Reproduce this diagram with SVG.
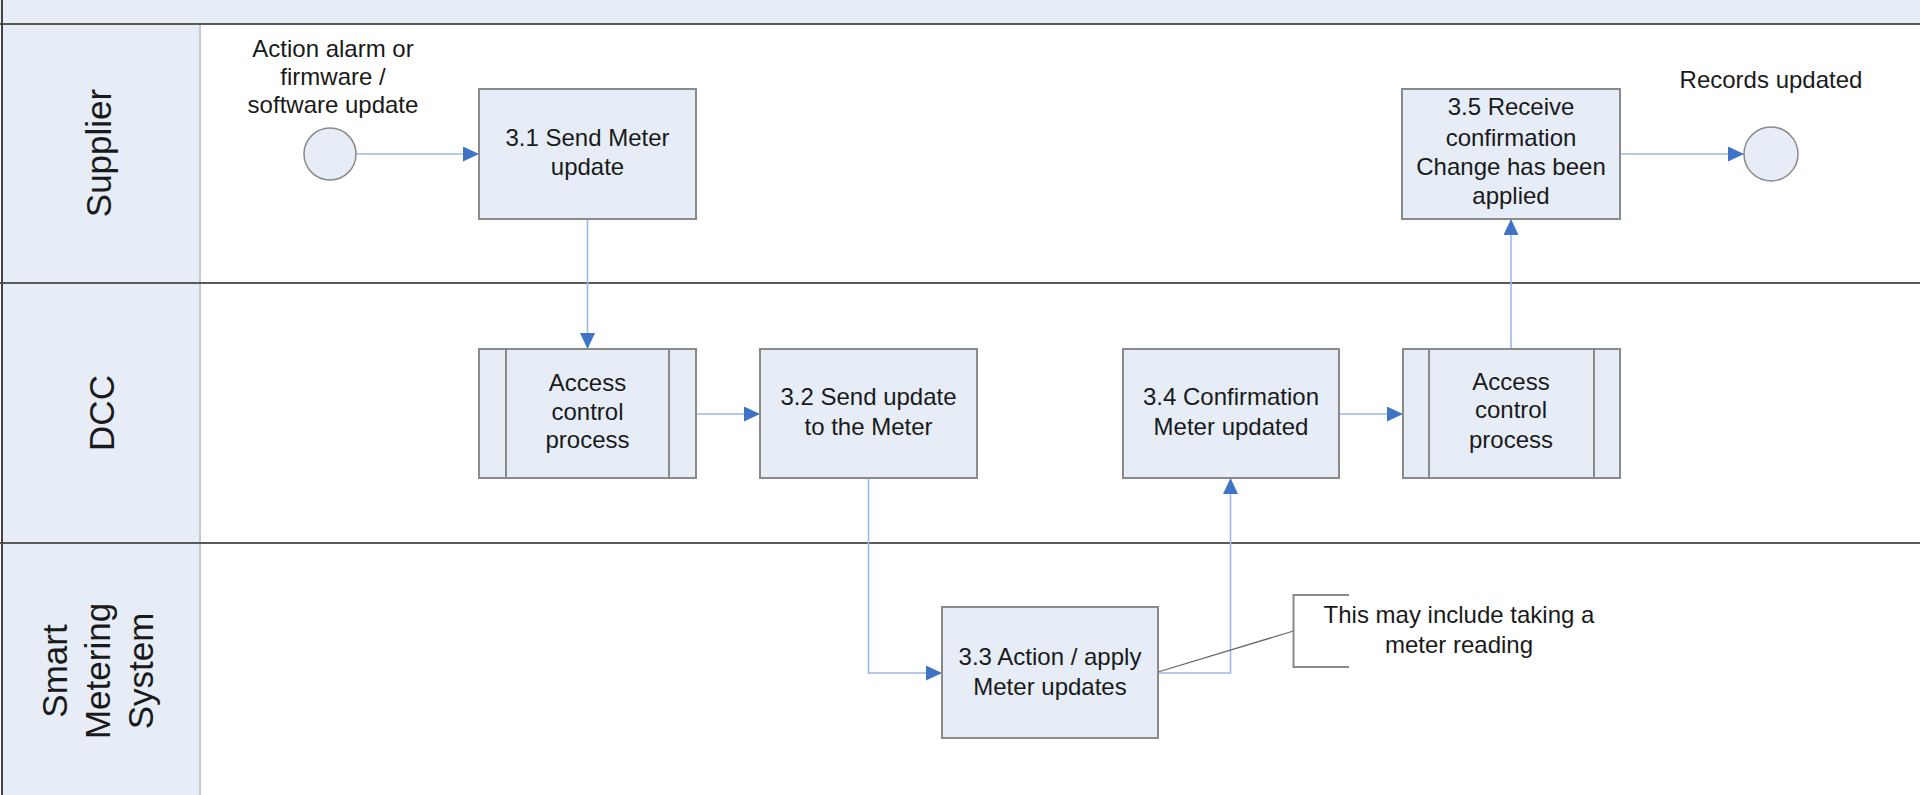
<svg xmlns="http://www.w3.org/2000/svg" width="1920" height="795" viewBox="0 0 1920 795">
<defs>
<style>
.t{font-family:"Liberation Sans",Arial,sans-serif;font-size:24px;fill:#1a1a1a;text-anchor:middle}
.lane{font-family:"Liberation Sans",Arial,sans-serif;font-size:35px;fill:#1a1a1a;text-anchor:middle}
.box{fill:#E6EDF7;stroke:#8a8a8a;stroke-width:2}
.inner{stroke:#8a8a8a;stroke-width:2}
.ev{fill:#E6EDF7;stroke:#8a8a8a;stroke-width:1.5}
.con{fill:none;stroke:#9DB9E6;stroke-width:1.6;marker-end:url(#ah)}
.div{stroke:#5a5a5a;stroke-width:2}
</style>
<marker id="ah" markerUnits="userSpaceOnUse" markerWidth="16" markerHeight="15" refX="16" refY="7.5" orient="auto">
<path d="M0,0 L16,7.5 L0,15 z" fill="#3F73C6"/>
</marker>
</defs>
<rect width="1920" height="795" fill="#ffffff"/>
<g id="pool">
<rect x="0" y="0" width="1920" height="24" fill="#E6EDF7"/>
<rect x="2" y="24" width="198" height="771" fill="#E6EDF7"/>
<line x1="200" y1="24" x2="200" y2="795" stroke="#C3CAD4" stroke-width="2"/>
<line class="div" x1="0" y1="24" x2="1920" y2="24"/>
<line class="div" x1="0" y1="283" x2="1920" y2="283"/>
<line class="div" x1="0" y1="543" x2="1920" y2="543"/>
<line x1="2" y1="0" x2="2" y2="795" stroke="#444" stroke-width="2"/>
</g>
<g id="lane-supplier"><text class="lane" transform="translate(111,153) rotate(-90)">Supplier</text></g>
<g id="lane-dcc"><text class="lane" transform="translate(114,413) rotate(-90)">DCC</text></g>
<g id="lane-sms"><text class="lane" transform="translate(0,671) rotate(-90)"><tspan x="0" y="67">Smart</tspan><tspan x="0" y="110">Metering</tspan><tspan x="0" y="153">System</tspan></text></g>

<g id="connectors">
<path class="con" d="M356,154 H479"/>
<path class="con" d="M587.5,219 V349"/>
<path class="con" d="M696,414 H760"/>
<path class="con" d="M868.5,478 V673 H942"/>
<path class="con" d="M1158,673 H1230.5 V478"/>
<path class="con" d="M1339,414 H1403"/>
<path class="con" d="M1511,349 V219"/>
<path class="con" d="M1620,154 H1744"/>
<path d="M1158,672 L1293.5,631" fill="none" stroke="#666" stroke-width="1.3"/>
</g>

<g id="start">
<ellipse class="ev" cx="330" cy="154" rx="26" ry="26"/>
<text class="t"><tspan x="333" y="57">Action alarm or</tspan><tspan x="333" y="85">firmware /</tspan><tspan x="333" y="113">software update</tspan></text>
</g>
<g id="n31">
<rect class="box" x="479" y="89" width="217" height="130"/>
<text class="t"><tspan x="587.5" y="146">3.1 Send Meter</tspan><tspan x="587.5" y="175">update</tspan></text>
</g>
<g id="access1">
<rect class="box" x="479" y="349" width="217" height="129"/>
<line class="inner" x1="506" y1="349" x2="506" y2="478"/>
<line class="inner" x1="669" y1="349" x2="669" y2="478"/>
<text class="t"><tspan x="587.5" y="391">Access</tspan><tspan x="587.5" y="420">control</tspan><tspan x="587.5" y="448">process</tspan></text>
</g>
<g id="n32">
<rect class="box" x="760" y="349" width="217" height="129"/>
<text class="t"><tspan x="868.5" y="405">3.2 Send update</tspan><tspan x="868.5" y="435">to the Meter</tspan></text>
</g>
<g id="n33">
<rect class="box" x="942" y="607" width="216" height="131"/>
<text class="t"><tspan x="1050" y="665">3.3 Action / apply</tspan><tspan x="1050" y="695">Meter updates</tspan></text>
</g>
<g id="n34">
<rect class="box" x="1123" y="349" width="216" height="129"/>
<text class="t"><tspan x="1231" y="405">3.4 Confirmation</tspan><tspan x="1231" y="435">Meter updated</tspan></text>
</g>
<g id="access2">
<rect class="box" x="1403" y="349" width="217" height="129"/>
<line class="inner" x1="1429" y1="349" x2="1429" y2="478"/>
<line class="inner" x1="1594" y1="349" x2="1594" y2="478"/>
<text class="t"><tspan x="1511" y="390">Access</tspan><tspan x="1511" y="418">control</tspan><tspan x="1511" y="448">process</tspan></text>
</g>
<g id="n35">
<rect class="box" x="1402" y="89" width="218" height="130"/>
<text class="t"><tspan x="1511" y="115">3.5 Receive</tspan><tspan x="1511" y="146">confirmation</tspan><tspan x="1511" y="175">Change has been</tspan><tspan x="1511" y="204">applied</tspan></text>
</g>
<g id="end">
<ellipse class="ev" cx="1771" cy="154" rx="27" ry="27"/>
<text class="t" x="1771" y="88">Records updated</text>
</g>
<g id="annotation">
<path d="M1349,595 H1293.5 V667 H1349" fill="none" stroke="#8a8a8a" stroke-width="2"/>
<text class="t"><tspan x="1459" y="623">This may include taking a</tspan><tspan x="1459" y="653">meter reading</tspan></text>
</g>
</svg>
